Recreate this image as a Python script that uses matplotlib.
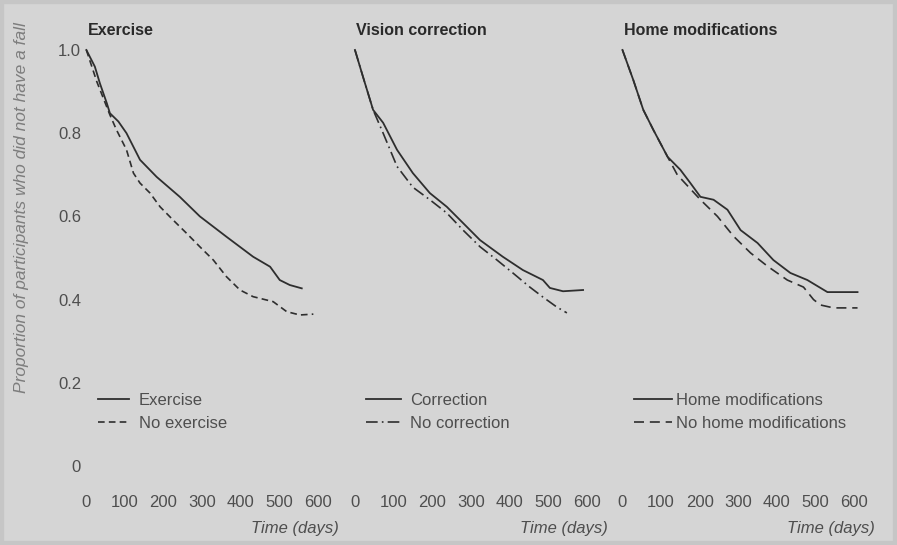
"""
Falls trial: Kaplan-Meier style curves for three interventions, side by side.
"""
import numpy as np
import matplotlib
matplotlib.use("Agg")
import matplotlib.pyplot as plt
from matplotlib.patches import Rectangle

plt.rcParams["font.family"] = ["Liberation Sans", "DejaVu Sans"]

# ---- data ----
ex_days = [0, 22, 35, 53, 61, 83, 104, 139, 182, 242, 294, 363, 432, 476, 501, 527, 558]
ex_vals = [1.0, 0.96, 0.92, 0.872, 0.848, 0.828, 0.80, 0.736, 0.695, 0.647, 0.60, 0.551,
           0.503, 0.479, 0.447, 0.435, 0.427]
noex_days = [0, 27, 61, 78, 104, 122, 139, 165, 191, 225, 260, 294, 329, 363, 398, 432,
             484, 519, 553, 588]
noex_vals = [1.0, 0.924, 0.844, 0.808, 0.76, 0.704, 0.68, 0.656, 0.623, 0.591, 0.559,
             0.527, 0.495, 0.455, 0.423, 0.407, 0.395, 0.371, 0.363, 0.365]

corr_days = [0, 21, 47, 73, 109, 150, 194, 238, 280, 324, 383, 435, 487, 505, 539, 591]
corr_vals = [1.0, 0.935, 0.856, 0.825, 0.76, 0.704, 0.656, 0.623, 0.584, 0.543, 0.503,
             0.471, 0.447, 0.428, 0.42, 0.423]
nocorr_days = [0, 21, 47, 73, 109, 150, 194, 238, 280, 324, 368, 409, 453, 487, 523, 549]
nocorr_vals = [1.0, 0.935, 0.856, 0.80, 0.72, 0.67, 0.64, 0.608, 0.567, 0.527, 0.495,
               0.464, 0.43, 0.406, 0.382, 0.368]

home_days = [0, 28, 54, 80, 117, 150, 176, 202, 236, 272, 306, 350, 391, 435, 479, 531, 609]
home_vals = [1.0, 0.928, 0.856, 0.808, 0.743, 0.712, 0.68, 0.647, 0.64, 0.616, 0.567,
             0.536, 0.495, 0.464, 0.447, 0.418, 0.418]
nohome_days = [0, 28, 54, 80, 117, 142, 202, 246, 288, 332, 376, 427, 469, 495, 513, 547, 609]
nohome_vals = [1.0, 0.928, 0.856, 0.808, 0.743, 0.70, 0.64, 0.60, 0.552, 0.512, 0.48,
               0.447, 0.43, 0.40, 0.387, 0.38, 0.38]

titles = ["Exercise", "Vision correction", "Home modifications"]
labels = [("Exercise", "No exercise"),
          ("Correction", "No correction"),
          ("Home modifications", "No home modifications")]
series = [((ex_days, ex_vals), (noex_days, noex_vals)),
          ((corr_days, corr_vals), (nocorr_days, nocorr_vals)),
          ((home_days, home_vals), (nohome_days, nohome_vals))]
x_ticks = [0, 100, 200, 300, 400, 500, 600]
y_ticks = [0, 0.2, 0.4, 0.6, 0.8, 1.0]
y_ticklabels = ["0", "0.2", "0.4", "0.6", "0.8", "1.0"]

# ---- layout ----
W, H = 897, 545
BG = "#d5d5d5"
INK = "#2e2e2e"
TXT = "#4e4e4e"
dashes = [(4, 2.5), (7, 2.5, 1, 2.5), (6, 3.5)]
handle_len = [1.85, 2.1, 2.3]
text_pad = [0.6, 0.5, 0.25]
panel_px = [82.5, 351.1, 618.6]   # left edge of each axes, pixels
ax_w, ax_top, ax_bot = 250.9, 37.5, 474.3

fig = plt.figure(figsize=(W / 100, H / 100), dpi=100, facecolor=BG)
fig.patches.append(Rectangle((0, 0), 1, 1, transform=fig.transFigure, fill=False,
                             edgecolor="#c6c6c6", linewidth=6, zorder=0))

for i, left in enumerate(panel_px):
    ax = fig.add_axes([left / W, 1 - ax_bot / H, ax_w / W, (ax_bot - ax_top) / H])
    ax.set_facecolor("none")
    for sp in ax.spines.values():
        sp.set_visible(False)
    ax.set_xlim(-10, 640)
    ax.set_ylim(-0.02, 1.03)

    (d1, v1), (d2, v2) = series[i]
    ax.plot(d1, v1, color=INK, lw=1.3, label=labels[i][0])
    ax.plot(d2, v2, color=INK, lw=1.2, dashes=dashes[i], label=labels[i][1])

    ax.set_xticks(x_ticks)
    ax.tick_params(axis="x", length=0, pad=15, labelsize=12, labelcolor=TXT)
    if i == 0:
        ax.set_yticks(y_ticks)
        ax.set_yticklabels(y_ticklabels)
        ax.tick_params(axis="y", length=0, pad=1, labelsize=12, labelcolor=TXT)
    else:
        ax.set_yticks([])

    ax.text(0.021, 1.017, titles[i], transform=ax.transAxes, fontsize=11.5,
            fontweight="bold", color="#2a2a2a", ha="left", va="center")
    ax.text(1.022, -0.125, "Time (days)", transform=ax.transAxes, fontsize=12,
            style="italic", color=TXT, ha="right", va="center")

    leg = ax.legend(loc="lower left", bbox_to_anchor=(0.061, 0.1), frameon=False,
                    fontsize=12, handlelength=handle_len[i], handletextpad=text_pad[i],
                    labelspacing=0.45, borderpad=0, borderaxespad=0)
    for t in leg.get_texts():
        t.set_color(TXT)

fig.text(22 / W, 1 - 208 / H, "Proportion of participants who did not have a fall",
         rotation=90, fontsize=12.5, style="italic", color="#7d7d7d",
         ha="center", va="center")

fig.savefig("out.png", dpi=100, facecolor=BG)
